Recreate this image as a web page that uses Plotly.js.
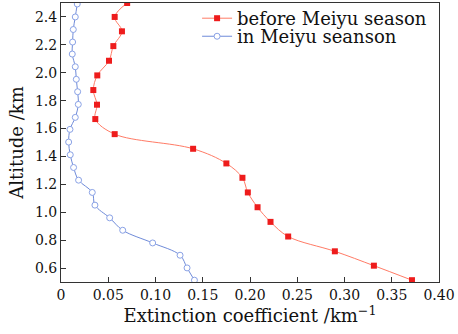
<!DOCTYPE html>
<html>
<head>
<meta charset="utf-8">
<script src="https://cdn.plot.ly/plotly-3.0.1.min.js"></script>
<style>html,body{margin:0;padding:0;background:#fff;}#chart{width:458px;height:334px;}</style>
</head>
<body>
<div id="chart"></div>
<script>
// Data
const beforeAltitude = [2.50, 2.40, 2.297, 2.191, 2.086, 1.981, 1.876, 1.771, 1.668, 1.560, 1.455, 1.350, 1.247, 1.142, 1.036, 0.931, 0.826, 0.720, 0.617, 0.513];
const beforeExtinction = [0.070, 0.0568, 0.0645, 0.0554, 0.0508, 0.0384, 0.0342, 0.0381, 0.0363, 0.0568, 0.1398, 0.175, 0.192, 0.1977, 0.208, 0.2217, 0.2404, 0.2898, 0.3311, 0.3714];
const inAltitude = [2.493, 2.40, 2.31, 2.22, 2.134, 2.043, 1.953, 1.864, 1.773, 1.680, 1.594, 1.503, 1.412, 1.321, 1.230, 1.142, 1.051, 0.960, 0.871, 0.780, 0.692, 0.601, 0.513];
const inExtinction = [0.0172, 0.0151, 0.0130, 0.0123, 0.0119, 0.0151, 0.0162, 0.0176, 0.0183, 0.0151, 0.0095, 0.0081, 0.0098, 0.0133, 0.0186, 0.0331, 0.0359, 0.0515, 0.0653, 0.0970, 0.1260, 0.1334, 0.1412];
const seriesNames = ["before Meiyu season", "in Meiyu seanson"];
const xTickVals = [0, 0.05, 0.10, 0.15, 0.20, 0.25, 0.30, 0.35, 0.40];
const xTickText = ["0", "0.05", "0.10", "0.15", "0.20", "0.25", "0.30", "0.35", "0.40"];
const yTickVals = [0.6, 0.8, 1.0, 1.2, 1.4, 1.6, 1.8, 2.0, 2.2, 2.4];
const yTickText = ["0.6", "0.8", "1.0", "1.2", "1.4", "1.6", "1.8", "2.0", "2.2", "2.4"];

const FONT = "DejaVu Serif, serif";
const traces = [
  {
    x: beforeExtinction, y: beforeAltitude, name: seriesNames[0], legend: "legend",
    mode: "lines+markers", type: "scatter",
    line: {color: "#ff7b66", width: 1, shape: "spline", smoothing: 1},
    marker: {symbol: "square", size: 6, color: "#ee1c1c", line: {width: 0}}
  },
  {
    x: inExtinction, y: inAltitude, name: seriesNames[1], legend: "legend2",
    mode: "lines+markers", type: "scatter",
    line: {color: "#6f8bd9", width: 1, shape: "spline", smoothing: 1},
    marker: {symbol: "circle", size: 6, color: "#ffffff", line: {width: 1, color: "#8aa2e6"}}
  }
];
const axisCommon = {
  showgrid: false, zeroline: false, showline: true, mirror: true,
  linecolor: "#333", linewidth: 1, ticks: "inside", ticklen: 5, tickwidth: 1, tickcolor: "#333",
  tickfont: {family: FONT, size: 14, color: "#111"}
};
const legendCommon = {xanchor: "left", yanchor: "top", yref: "container", bgcolor: "rgba(0,0,0,0)", borderwidth: 0,
  font: {family: FONT, size: 18, color: "#111"}};
const layout = {
  width: 458, height: 334,
  margin: {l: 61, r: 19, t: 3, b: 52, autoexpand: false},
  paper_bgcolor: "#fff", plot_bgcolor: "#fff",
  showlegend: true,
  legend: Object.assign({}, legendCommon, {x: 0.36, y: 1.008}),
  legend2: Object.assign({}, legendCommon, {x: 0.36, y: 0.946}),
  xaxis: Object.assign({}, axisCommon, {
    range: [0, 0.40], tickvals: xTickVals, ticktext: xTickText,
    title: {text: "Extinction coefficient /km<sup>−1</sup>", font: {family: FONT, size: 18, color: "#111"}, standoff: 4}
  }),
  yaxis: Object.assign({}, axisCommon, {
    range: [0.5, 2.5], tickvals: yTickVals, ticktext: yTickText,
    title: {text: "Altitude /km", font: {family: FONT, size: 18, color: "#111"}, standoff: 6}
  })
};
Plotly.newPlot("chart", traces, layout, {displayModeBar: false, staticPlot: true});
</script>
</body>
</html>
